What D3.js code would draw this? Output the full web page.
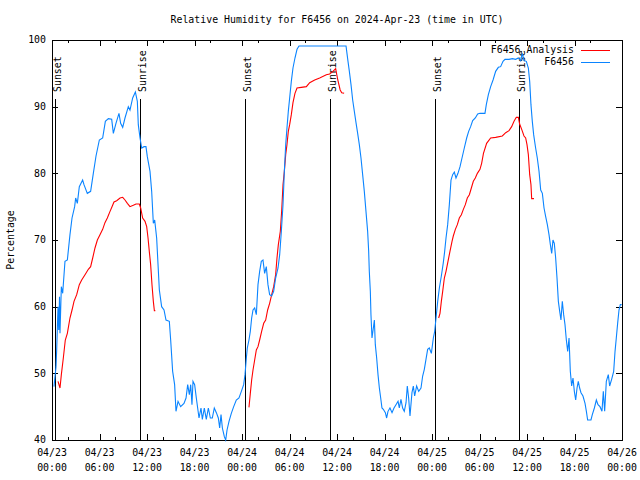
<!DOCTYPE html>
<html><head><meta charset="utf-8">
<script src="https://cdn.jsdelivr.net/npm/d3@7"></script>
<style>
body{margin:0;background:#fff;}
svg{display:block;}
text{font-family:"DejaVu Sans Mono",monospace;font-size:9.9px;fill:#000;}
</style></head>
<body><svg id="c" width="640" height="480"></svg>
<script>
// hours since 2024-04-23 00:00 UTC
const obsHours = [0.25,0.51,0.59,0.76,0.85,0.95,1.01,1.18,1.35,1.64,1.94,2.27,2.53,2.86,2.99,3.2,3.45,3.87,4.04,4.46,4.88,5.22,5.56,5.98,6.4,6.74,7.12,7.54,7.75,8.08,8.46,8.67,8.93,9.22,9.64,9.85,10.19,10.53,10.78,10.9,11.12,11.33,11.62,11.87,12.04,12.38,12.59,12.8,12.97,13.22,13.35,13.56,13.85,14.15,14.4,14.82,14.99,15.24,15.49,15.66,15.92,16.25,16.67,16.93,17.14,17.35,17.52,17.68,
17.81,18.02,18.23,18.57,18.82,18.99,19.24,19.49,19.75,20.0,20.25,20.5,20.76,21.01,21.18,21.35,21.52,21.77,21.94,22.11,22.36,22.65,22.95,23.28,23.62,23.92,24.21,24.38,24.55,24.67,24.88,25.05,25.22,25.39,25.6,25.81,26.02,26.23,26.44,26.65,26.86,27.07,27.28,27.49,27.75,28.0,28.25,28.55,28.76,28.97,29.18,29.35,29.52,29.68,29.85,30.02,30.23,30.44,30.69,30.95,31.2,37.14,
37.39,37.56,37.77,37.98,38.19,38.4,38.61,38.82,39.03,39.24,39.45,39.66,39.87,40.0,40.08,40.21,40.29,40.42,40.59,40.72,40.84,41.01,41.18,41.35,41.52,41.68,41.85,42.11,42.27,42.44,42.69,42.95,43.2,43.45,43.71,43.87,44.08,44.29,44.5,44.72,44.88,45.05,45.22,45.47,45.64,45.81,46.06,46.32,46.61,46.82,47.03,47.24,47.45,47.66,47.92,48.17,48.34,48.51,48.72,48.93,49.18,49.43,49.6,49.77,49.98,50.19,50.4,50.61,50.82,51.03,51.28,51.54,51.79,52.08,52.38,52.63,52.88,53.14,53.47,53.77,54.06,
54.69,54.86,55.12,55.41,55.71,56.04,56.38,56.67,56.97,57.22,57.73,58.15,58.57,58.91,59.2,59.41,59.62,59.92,60.17,60.34,60.5,60.67,60.84,61.09,61.3,61.52,61.73,61.94,62.15,62.36,62.57,62.78,62.95,63.12,63.28,63.45,63.62,63.79,63.96,64.13,64.29,64.46,64.63,64.8,64.97,65.14,65.31,65.47,65.64,65.81,65.98,66.15,66.32,66.48,66.65,66.82,67.07,67.33,67.5,67.66,68.08,68.25,68.51,68.76,68.97,69.22,69.47,69.64,69.81,70.02,70.27,70.44,70.69,70.95,71.12,71.28,71.45,71.62,71.79,71.96];
const obsRH = [48.0,51,53.5,60,56.5,61.5,56,63,62,66.8,67,70.8,73.3,75,76.3,75.5,78,79,78.3,77,77.3,80,82.6,85,85.3,87.8,88.2,88.1,86,87.5,89,87.5,86.9,88.3,90,89.5,91.3,92.2,90.8,87.3,85.3,83.8,84,84,82.5,80.3,77.3,72.5,73,70.3,67.3,62.5,60,59.5,58,57.8,55,50.3,48.3,44.3,45.8,45,45.5,46.3,48.3,46.8,48.3,45.3,
48.8,48.3,46.3,43.3,44.8,43.1,44.8,43.1,44.8,43.3,43.3,44.8,44.1,43.3,41.8,43.8,41.8,40.5,40,41.5,42.8,44,45,46,46.3,47.3,48.3,49.8,52.3,53.8,55,56.3,58.3,59.5,59.8,58.8,63.3,65.3,66.8,67,65,66,63.3,61.8,61.6,62.3,64.3,65.8,67.8,71.3,75.3,80.3,84.3,86.8,89.3,91.3,93.8,95.8,97.3,98.6,99.1,99.1,
96.8,95.3,93.3,91,89.3,87.6,86,84.3,82.3,79.8,77.3,74.3,71.3,68.3,65.3,62.3,58.8,55.3,56.8,58,54.3,52.3,49.8,47.8,46.3,44.8,44.6,44.1,43.3,44.3,44.8,44.1,44.8,45.3,45.8,44.8,46.1,44.8,44.3,45.6,48.1,46.3,43.6,47.1,48.1,46.6,48.1,47.3,47.8,49.6,50.6,52.1,53.6,53.8,53,55.3,56.3,58.3,60.8,62.8,64.6,66.6,68.3,70.3,72.3,75.3,79,79.8,80.2,79.3,80,81,82.3,83.8,85.3,86.3,87,87.9,88.3,88.9,89,
89,90.3,91.8,93,94,95.3,95.9,96,96.8,97.1,97.1,97.2,97.1,97.3,96.9,98,96.9,96.8,95.8,93.8,90.3,87.8,85.8,83.8,82.3,80.3,77.5,77,74.8,73.5,72.3,70.8,69.3,68,70,69.5,67.3,64.3,60.8,59.3,58,60.8,58.8,57.3,55,53.3,55.3,50.3,48.1,49.3,47.3,46,47.8,48.8,47.8,47.1,46.6,45.5,44.3,43,43,43.8,44.8,46,45.3,45,44.3,47.3,44.3,48.8,49.8,48.1,49.1,50.3,53.3,55.3,57.5,59.5,60.3,60.3];

// analysis series (null = gap)
const anaHours = [0.76,1.01,1.18,1.43,1.68,1.94,2.27,2.53,2.78,3.12,3.45,3.75,4.17,4.59,4.88,5.14,5.43,5.73,6.06,6.4,6.69,6.99,7.33,7.58,7.83,8.17,8.59,8.93,9.22,9.52,9.85,10.27,10.61,11.03,11.2,11.45,11.75,11.96,12.13,12.29,12.46,12.63,12.8,12.93,13.05,
18.0,
24.88,25.05,25.22,25.39,25.6,25.81,26.02,26.23,26.48,26.74,26.99,27.24,27.49,27.75,28.0,28.25,28.42,28.59,28.84,29.01,29.18,29.35,29.52,29.68,29.85,30.02,30.23,30.44,30.69,30.95,31.49,32.13,32.55,33.18,33.81,34.65,35.07,35.49,35.83,36.1,36.4,36.6,36.9,
42.0,
48.84,49.01,49.18,49.35,49.56,49.77,50.02,50.27,50.53,50.69,50.95,51.2,51.45,51.71,51.96,52.21,52.46,52.72,52.97,53.22,53.47,53.73,54.06,54.27,54.5,54.9,55.41,56.04,56.88,57.31,57.73,58.06,58.36,58.65,58.91,59.07,59.33,59.62,59.83,60.0,60.17,60.34,60.5,60.59,60.88];
const anaRH = [48.8,47.8,49.8,52.3,55,56,58.3,59.5,60.8,61.8,63.3,64,64.8,65.6,66,67.3,68.8,70,70.8,71.6,72.6,73.3,74.3,75,75.7,75.9,76.3,76.4,76,75.5,75,75.2,75.4,75.4,74.8,73.3,72.8,72,70.3,68.3,66.3,63.3,60.8,59.4,59.4,
null,
44.9,47,49,50.5,52,53.5,54,55,56.3,57.5,58,59.5,60.5,61.8,63,64.8,67.3,69.3,71.3,74.3,78.3,80.3,82.8,84.3,86.3,87.3,88.8,90.6,92,92.8,92.9,93,93.6,94,94.3,94.8,94.9,95.3,95.7,94,92.5,92.1,92.0,
null,
58.3,59,60.8,62.3,64.3,65.3,66.8,68.3,69.8,70.6,71.6,72.3,73.3,73.8,74.6,75.3,76.3,76.8,77.8,78.8,79.3,80,80.6,81.5,83,84.5,85.3,85.4,85.6,86.1,86.4,87,87.8,88.4,88.4,87.4,86.6,85.6,85.3,84.3,82.8,79.8,78.3,76.2,76.2];

const sunsetHours = [0.42, 24.42, 48.41];
const sunriseHours = [11.15, 35.08, 59.03];
const yTicks = [40,50,60,70,80,90,100];
const seriesNames = ["F6456 Analysis","F6456"];
const seriesColors = ["#ff0000","#0a84ff"];
const titleText = "Relative Humidity for F6456 on 2024-Apr-23 (time in UTC)";
const yLabel = "Percentage";

const t0 = Date.UTC(2024,3,23,0,0);
const toDate = h => new Date(t0 + h*3600000);

const L=52, R=622, T=40, B=440;
const svg = d3.select("#c");
const x = d3.scaleUtc().domain([toDate(0), toDate(72)]).range([L, R]);
const y = d3.scaleLinear().domain([40,100]).range([B, T]);

svg.append("text").attr("x",(L+R)/2).attr("y",23).attr("text-anchor","middle").text(titleText);
svg.append("text").attr("transform","translate(14,240) rotate(-90)").attr("text-anchor","middle").text(yLabel);

const g = svg.append("g").attr("shape-rendering","crispEdges");
const majorX = d3.range(0,73,6).map(toDate);
const minorX = d3.range(0,72,6).map(h=>h+2).map(toDate);
majorX.forEach(d=>{
  const xx = Math.round(x(d))+0.5;
  g.append("line").attr("x1",xx).attr("x2",xx).attr("y1",B).attr("y2",B-6).attr("stroke","#000");
  g.append("line").attr("x1",xx).attr("x2",xx).attr("y1",T).attr("y2",T+6).attr("stroke","#000");
});
minorX.forEach(d=>{
  const xx = Math.round(x(d))+0.5;
  g.append("line").attr("x1",xx).attr("x2",xx).attr("y1",B).attr("y2",B-3).attr("stroke","#000");
  g.append("line").attr("x1",xx).attr("x2",xx).attr("y1",T).attr("y2",T+3).attr("stroke","#000");
});
yTicks.forEach(v=>{
  const yy = Math.round(y(v))+0.5;
  g.append("line").attr("x1",L).attr("x2",L+6).attr("y1",yy).attr("y2",yy).attr("stroke","#000");
  g.append("line").attr("x1",R).attr("x2",R-6).attr("y1",yy).attr("y2",yy).attr("stroke","#000");
  svg.append("text").attr("x",L-6).attr("y",y(v)).attr("dy","0.35em").attr("text-anchor","end").text(v);
});
const fmtD = d3.utcFormat("%m/%d"), fmtT = d3.utcFormat("%H:%M");
majorX.forEach(d=>{
  const t = svg.append("text").attr("x",x(d)).attr("text-anchor","middle");
  t.append("tspan").attr("x",x(d)).attr("y",455.5).text(fmtD(d));
  t.append("tspan").attr("x",x(d)).attr("y",470.5).text(fmtT(d));
});

const sun = sunsetHours.map(h=>({h,label:"Sunset"})).concat(sunriseHours.map(h=>({h,label:"Sunrise"})));
sun.forEach(s=>{
  const xx = Math.round(x(toDate(s.h)))+0.5;
  g.append("line").attr("x1",xx).attr("x2",xx).attr("y1",B).attr("y2",y(91.1)).attr("stroke","#000");
  svg.append("text").attr("transform",`translate(${xx+5.5},92) rotate(-90)`).attr("text-anchor","start").text(s.label);
});

const line = d3.line().defined(d=>d[1]!==null).x(d=>x(toDate(d[0]))).y(d=>y(d[1]));
const anaData = anaHours.map((h,i)=>[h,anaRH[i]]);
const obsData = obsHours.map((h,i)=>[h,obsRH[i]]);
svg.append("path").datum(anaData).attr("d",line).attr("fill","none").attr("stroke",seriesColors[0]).attr("stroke-width",1.1);
svg.append("path").datum(obsData).attr("d",line).attr("fill","none").attr("stroke",seriesColors[1]).attr("stroke-width",1.1);

g.append("rect").attr("x",L+0.5).attr("y",T+0.5).attr("width",R-L).attr("height",B-T).attr("fill","none").attr("stroke","#000");

seriesNames.forEach((n,i)=>{
  const ly = 50 + i*12;
  svg.append("text").attr("x",574).attr("y",ly).attr("dy","0.35em").attr("text-anchor","end").text(n);
  g.append("line").attr("x1",581).attr("x2",610).attr("y1",ly+0.5).attr("y2",ly+0.5).attr("stroke",seriesColors[i]);
});
</script></body></html>
